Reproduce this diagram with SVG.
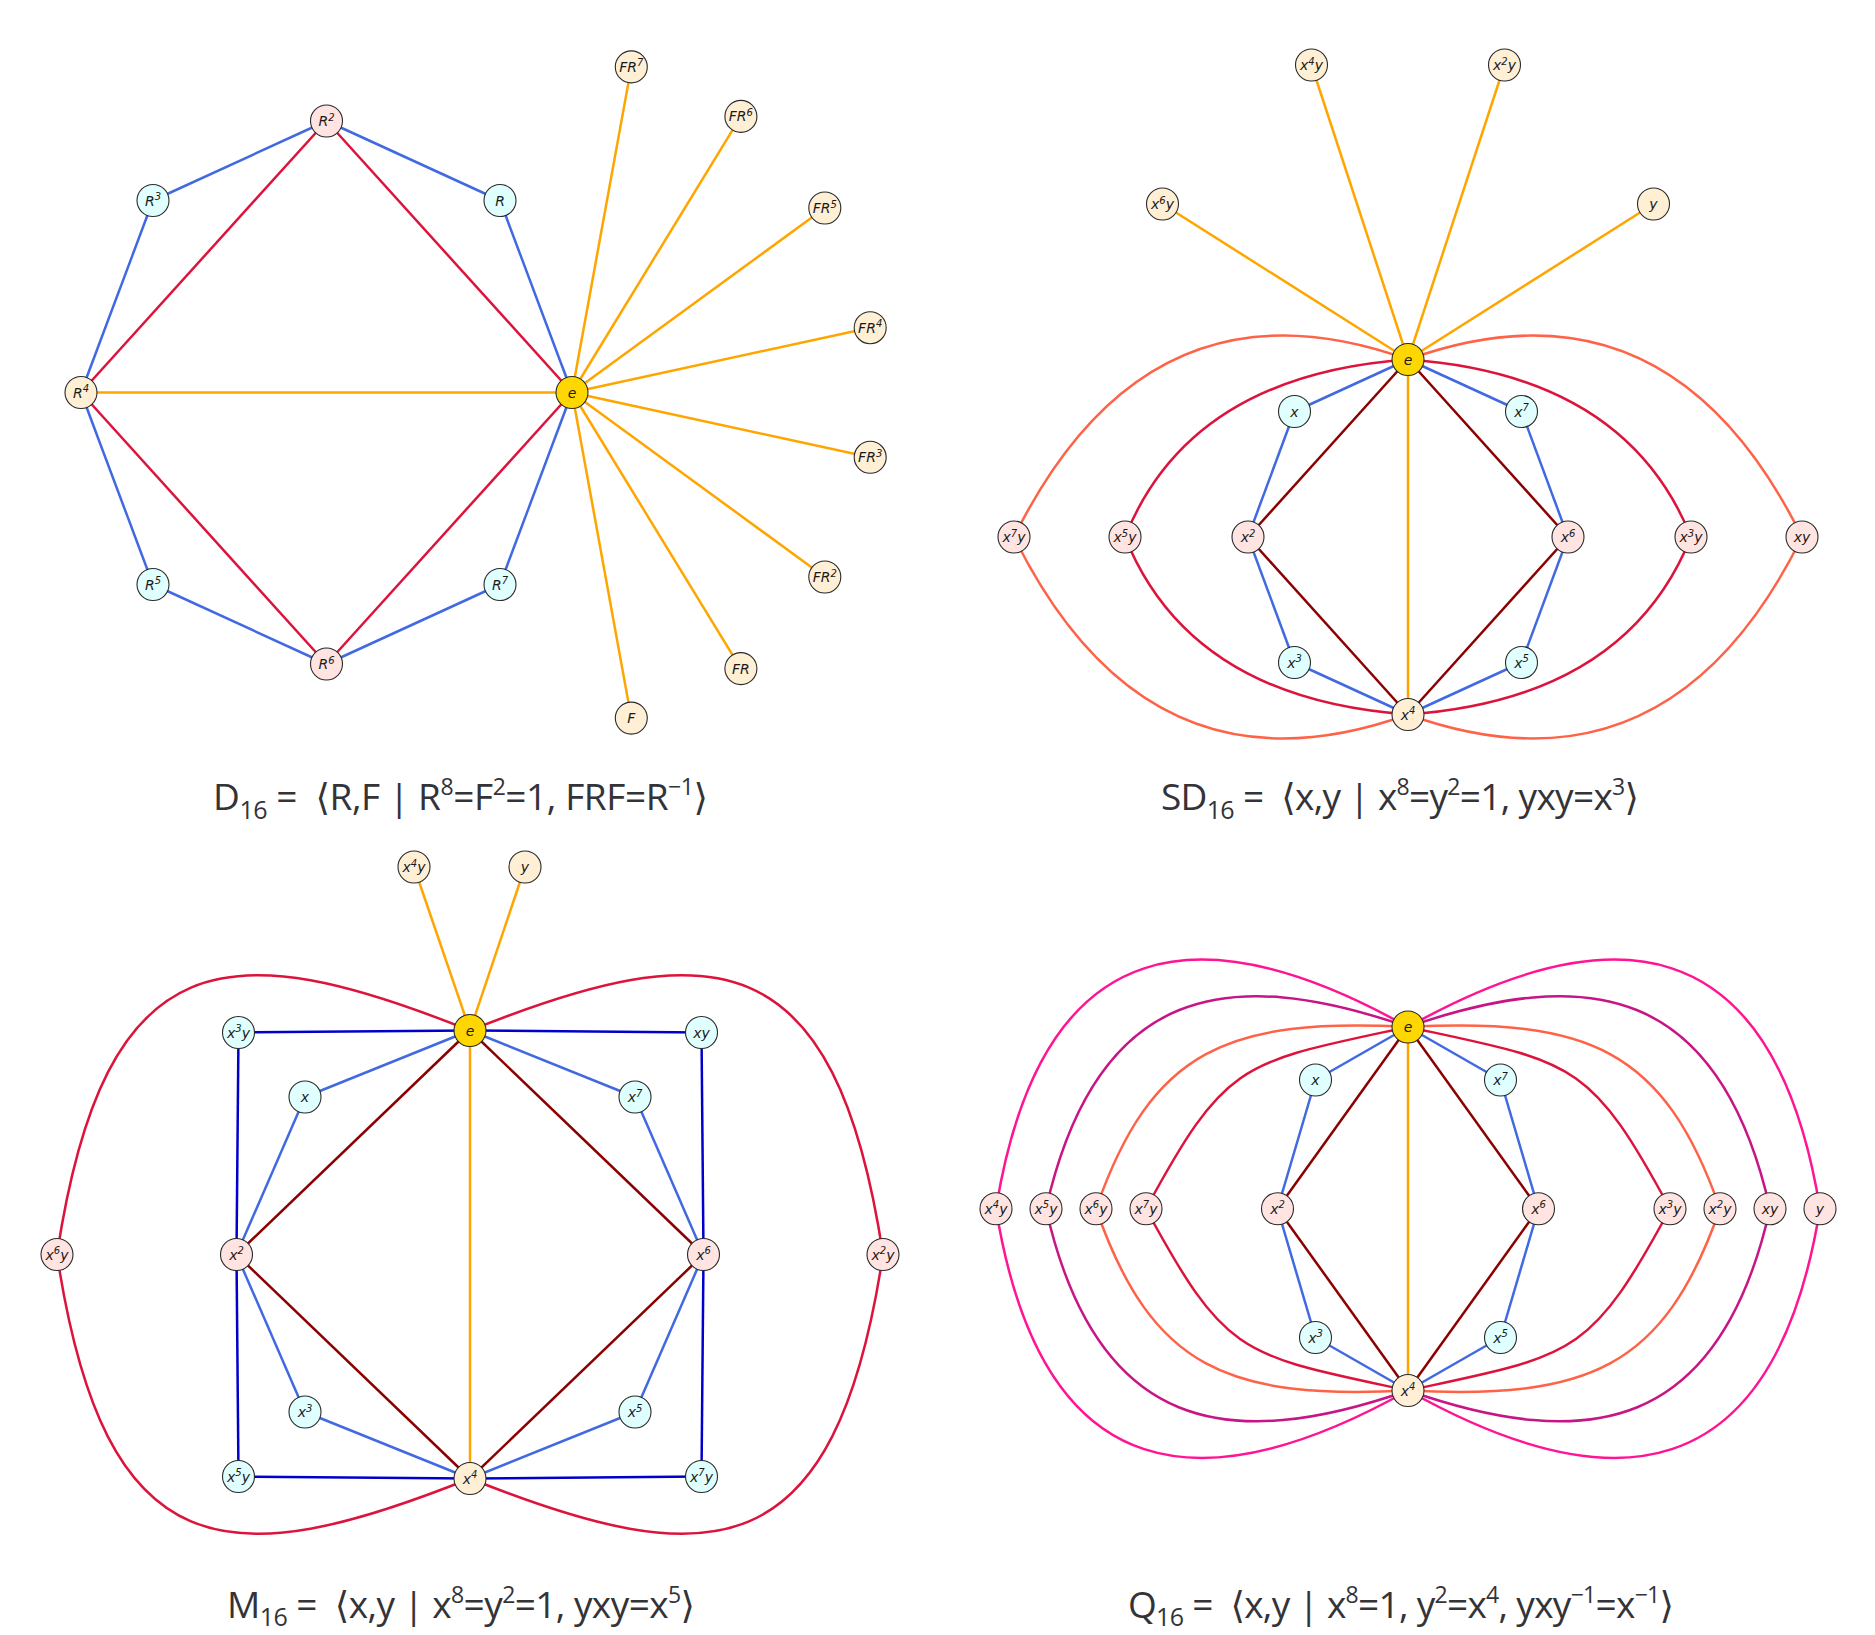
<svg xmlns="http://www.w3.org/2000/svg" width="1875" height="1635" viewBox="0 0 1875 1635">
<style>
.e line,.e path{fill:none;stroke-width:2.5}
.b{stroke:#4169E1}.c{stroke:#DC143C}.o{stroke:#FFA500}.dr{stroke:#8B0000}.t{stroke:#FF6347}.mb{stroke:#0000CD}.dp{stroke:#FF1493}.mv{stroke:#C71585}
.n circle{stroke:#2a2a2a;stroke-width:1.1}
.gd{fill:#FFD700}.cy{fill:#E0FFFF}.pk{fill:#FFE4E1}.cr{fill:#FFEFD5}
.n text{font-family:"DejaVu Sans",sans-serif;font-style:italic;font-size:14px;fill:#1a1a1a;text-anchor:middle}
.n .s{font-size:10px}
.cap{font-family:"Open Sans","Noto Sans","DejaVu Sans",sans-serif;font-size:37px;fill:#333338}
.cap .sb{font-size:25px}.cap .sp{font-size:23px}
</style>
<rect width="1875" height="1635" fill="#ffffff"/>

<g id="connectors" class="e">
<!-- D16 -->
<line class="o" x1="572" y1="392.5" x2="81" y2="392.5"/>
<line class="o" x1="572" y1="392.5" x2="631.3" y2="66.9"/>
<line class="o" x1="572" y1="392.5" x2="740.9" y2="116.4"/>
<line class="o" x1="572" y1="392.5" x2="824.8" y2="208"/>
<line class="o" x1="572" y1="392.5" x2="870.2" y2="327.7"/>
<line class="o" x1="572" y1="392.5" x2="870.2" y2="457.3"/>
<line class="o" x1="572" y1="392.5" x2="824.8" y2="577"/>
<line class="o" x1="572" y1="392.5" x2="740.9" y2="668.6"/>
<line class="o" x1="572" y1="392.5" x2="631.3" y2="718.1"/>
<line class="c" x1="572" y1="392.5" x2="326.5" y2="121"/>
<line class="c" x1="326.5" y1="121" x2="81" y2="392.5"/>
<line class="c" x1="81" y1="392.5" x2="326.5" y2="664"/>
<line class="c" x1="326.5" y1="664" x2="572" y2="392.5"/>
<line class="b" x1="572" y1="392.5" x2="500" y2="200.5"/>
<line class="b" x1="500" y1="200.5" x2="326.5" y2="121"/>
<line class="b" x1="326.5" y1="121" x2="153" y2="200.5"/>
<line class="b" x1="153" y1="200.5" x2="81" y2="392.5"/>
<line class="b" x1="81" y1="392.5" x2="153" y2="584.5"/>
<line class="b" x1="153" y1="584.5" x2="326.5" y2="664"/>
<line class="b" x1="326.5" y1="664" x2="500" y2="584.5"/>
<line class="b" x1="500" y1="584.5" x2="572" y2="392.5"/>
<!-- SD16 -->
<path class="t" d="M1408,359.5 Q1148,266 1014,537"/>
<path class="t" d="M1014,537 Q1148,808 1408,714.5"/>
<path class="t" d="M1408,359.5 Q1668,266 1802,537"/>
<path class="t" d="M1802,537 Q1668,808 1408,714.5"/>
<path class="c" d="M1408,359.5 Q1190,375 1125,537"/>
<path class="c" d="M1125,537 Q1190,699 1408,714.5"/>
<path class="c" d="M1408,359.5 Q1626,375 1691,537"/>
<path class="c" d="M1691,537 Q1626,699 1408,714.5"/>
<line class="o" x1="1408" y1="359.5" x2="1408" y2="714.5"/>
<line class="o" x1="1408" y1="359.5" x2="1311.5" y2="65"/>
<line class="o" x1="1408" y1="359.5" x2="1504.5" y2="65"/>
<line class="o" x1="1408" y1="359.5" x2="1162.5" y2="204"/>
<line class="o" x1="1408" y1="359.5" x2="1653.5" y2="204"/>
<line class="dr" x1="1408" y1="359.5" x2="1248" y2="537"/>
<line class="dr" x1="1248" y1="537" x2="1408" y2="714.5"/>
<line class="dr" x1="1408" y1="714.5" x2="1568" y2="537"/>
<line class="dr" x1="1568" y1="537" x2="1408" y2="359.5"/>
<line class="b" x1="1408" y1="359.5" x2="1294.5" y2="411.5"/>
<line class="b" x1="1294.5" y1="411.5" x2="1248" y2="537"/>
<line class="b" x1="1248" y1="537" x2="1294.5" y2="662.5"/>
<line class="b" x1="1294.5" y1="662.5" x2="1408" y2="714.5"/>
<line class="b" x1="1408" y1="714.5" x2="1521.5" y2="662.5"/>
<line class="b" x1="1521.5" y1="662.5" x2="1568" y2="537"/>
<line class="b" x1="1568" y1="537" x2="1521.5" y2="411.5"/>
<line class="b" x1="1521.5" y1="411.5" x2="1408" y2="359.5"/>
<!-- M16 -->
<path class="c" d="M470,1030.5 C228.7,934 105,938 57,1254.5"/>
<path class="c" d="M57,1254.5 C105,1571 228.7,1575 470,1478.5"/>
<path class="c" d="M470,1030.5 C711.3,934 835,938 883,1254.5"/>
<path class="c" d="M883,1254.5 C835,1571 711.3,1575 470,1478.5"/>
<line class="o" x1="470" y1="1030.5" x2="414" y2="867"/>
<line class="o" x1="470" y1="1030.5" x2="525" y2="867"/>
<line class="o" x1="470" y1="1030.5" x2="470" y2="1478.5"/>
<line class="mb" x1="470" y1="1030.5" x2="238.5" y2="1032.5"/>
<line class="mb" x1="238.5" y1="1032.5" x2="236.5" y2="1254.5"/>
<line class="mb" x1="236.5" y1="1254.5" x2="238.5" y2="1476.5"/>
<line class="mb" x1="238.5" y1="1476.5" x2="470" y2="1478.5"/>
<line class="mb" x1="470" y1="1030.5" x2="701.5" y2="1032.5"/>
<line class="mb" x1="701.5" y1="1032.5" x2="703.5" y2="1254.5"/>
<line class="mb" x1="703.5" y1="1254.5" x2="701.5" y2="1476.5"/>
<line class="mb" x1="701.5" y1="1476.5" x2="470" y2="1478.5"/>
<line class="dr" x1="470" y1="1030.5" x2="236.5" y2="1254.5"/>
<line class="dr" x1="236.5" y1="1254.5" x2="470" y2="1478.5"/>
<line class="dr" x1="470" y1="1478.5" x2="703.5" y2="1254.5"/>
<line class="dr" x1="703.5" y1="1254.5" x2="470" y2="1030.5"/>
<line class="b" x1="470" y1="1030.5" x2="305" y2="1097"/>
<line class="b" x1="305" y1="1097" x2="236.5" y2="1254.5"/>
<line class="b" x1="236.5" y1="1254.5" x2="305" y2="1412"/>
<line class="b" x1="305" y1="1412" x2="470" y2="1478.5"/>
<line class="b" x1="470" y1="1478.5" x2="635" y2="1412"/>
<line class="b" x1="635" y1="1412" x2="703.5" y2="1254.5"/>
<line class="b" x1="703.5" y1="1254.5" x2="635" y2="1097"/>
<line class="b" x1="635" y1="1097" x2="470" y2="1030.5"/>
<!-- Q16 -->
<path class="dp" d="M1408,1027 C1207.4,914.5 1042.4,922.5 996,1208.75"/>
<path class="dp" d="M996,1208.75 C1042.4,1495 1207.4,1503 1408,1390.5"/>
<path class="dp" d="M1408,1027 C1608.6,914.5 1773.6,922.5 1820,1208.75"/>
<path class="dp" d="M1820,1208.75 C1773.6,1495 1608.6,1503 1408,1390.5"/>
<path class="mv" d="M1408,1027 C1228.6,964.3 1096.6,984.5 1046,1208.75"/>
<path class="mv" d="M1046,1208.75 C1096.6,1433 1228.6,1453.2 1408,1390.5"/>
<path class="mv" d="M1408,1027 C1587.4,964.3 1719.4,984.5 1770,1208.75"/>
<path class="mv" d="M1770,1208.75 C1719.4,1433 1587.4,1453.2 1408,1390.5"/>
<path class="t" d="M1408,1027 C1228,1018 1152.1,1048.3 1096,1208.75"/>
<path class="t" d="M1096,1208.75 C1152.1,1369.2 1228,1399.5 1408,1390.5"/>
<path class="t" d="M1408,1027 C1588,1018 1663.9,1048.3 1720,1208.75"/>
<path class="t" d="M1720,1208.75 C1663.9,1369.2 1588,1399.5 1408,1390.5"/>
<path class="c" d="M1408,1027 C1241.7,1062.7 1226.9,1059.2 1146,1208.75"/>
<path class="c" d="M1146,1208.75 C1226.9,1358.3 1241.7,1354.8 1408,1390.5"/>
<path class="c" d="M1408,1027 C1574.3,1062.7 1589.1,1059.2 1670,1208.75"/>
<path class="c" d="M1670,1208.75 C1589.1,1358.3 1574.3,1354.8 1408,1390.5"/>
<line class="o" x1="1408" y1="1027" x2="1408" y2="1390.5"/>
<line class="dr" x1="1408" y1="1027" x2="1277.5" y2="1208.75"/>
<line class="dr" x1="1277.5" y1="1208.75" x2="1408" y2="1390.5"/>
<line class="dr" x1="1408" y1="1390.5" x2="1538.5" y2="1208.75"/>
<line class="dr" x1="1538.5" y1="1208.75" x2="1408" y2="1027"/>
<line class="b" x1="1408" y1="1027" x2="1315.5" y2="1080"/>
<line class="b" x1="1315.5" y1="1080" x2="1277.5" y2="1208.75"/>
<line class="b" x1="1277.5" y1="1208.75" x2="1315.5" y2="1337.5"/>
<line class="b" x1="1315.5" y1="1337.5" x2="1408" y2="1390.5"/>
<line class="b" x1="1408" y1="1390.5" x2="1500.5" y2="1337.5"/>
<line class="b" x1="1500.5" y1="1337.5" x2="1538.5" y2="1208.75"/>
<line class="b" x1="1538.5" y1="1208.75" x2="1500.5" y2="1080"/>
<line class="b" x1="1500.5" y1="1080" x2="1408" y2="1027"/>
</g>

<!-- D16 nodes -->
<g id="d-e" class="n"><circle cx="572" cy="392.5" r="16" class="gd"/><text x="572" y="397.5">e</text></g>
<g id="d-R" class="n"><circle cx="500" cy="200.5" r="16" class="cy"/><text x="500" y="205.5">R</text></g>
<g id="d-R2" class="n"><circle cx="326.5" cy="121" r="16" class="pk"/><text x="326.5" y="126">R<tspan class="s" dy="-5.5">2</tspan></text></g>
<g id="d-R3" class="n"><circle cx="153" cy="200.5" r="16" class="cy"/><text x="153" y="205.5">R<tspan class="s" dy="-5.5">3</tspan></text></g>
<g id="d-R4" class="n"><circle cx="81" cy="392.5" r="16" class="cr"/><text x="81" y="397.5">R<tspan class="s" dy="-5.5">4</tspan></text></g>
<g id="d-R5" class="n"><circle cx="153" cy="584.5" r="16" class="cy"/><text x="153" y="589.5">R<tspan class="s" dy="-5.5">5</tspan></text></g>
<g id="d-R6" class="n"><circle cx="326.5" cy="664" r="16" class="pk"/><text x="326.5" y="669">R<tspan class="s" dy="-5.5">6</tspan></text></g>
<g id="d-R7" class="n"><circle cx="500" cy="584.5" r="16" class="cy"/><text x="500" y="589.5">R<tspan class="s" dy="-5.5">7</tspan></text></g>
<g id="d-F" class="n"><circle cx="631.3" cy="718.1" r="16" class="cr"/><text x="631.3" y="723.1">F</text></g>
<g id="d-FR" class="n"><circle cx="740.9" cy="668.6" r="16" class="cr"/><text x="740.9" y="673.6">FR</text></g>
<g id="d-FR2" class="n"><circle cx="824.8" cy="577" r="16" class="cr"/><text x="824.8" y="582">FR<tspan class="s" dy="-5.5">2</tspan></text></g>
<g id="d-FR3" class="n"><circle cx="870.2" cy="457.3" r="16" class="cr"/><text x="870.2" y="462.3">FR<tspan class="s" dy="-5.5">3</tspan></text></g>
<g id="d-FR4" class="n"><circle cx="870.2" cy="327.7" r="16" class="cr"/><text x="870.2" y="332.7">FR<tspan class="s" dy="-5.5">4</tspan></text></g>
<g id="d-FR5" class="n"><circle cx="824.8" cy="208" r="16" class="cr"/><text x="824.8" y="213">FR<tspan class="s" dy="-5.5">5</tspan></text></g>
<g id="d-FR6" class="n"><circle cx="740.9" cy="116.4" r="16" class="cr"/><text x="740.9" y="121.4">FR<tspan class="s" dy="-5.5">6</tspan></text></g>
<g id="d-FR7" class="n"><circle cx="631.3" cy="66.9" r="16" class="cr"/><text x="631.3" y="71.9">FR<tspan class="s" dy="-5.5">7</tspan></text></g>

<!-- SD16 nodes -->
<g id="s-e" class="n"><circle cx="1408" cy="359.5" r="16" class="gd"/><text x="1408" y="364.5">e</text></g>
<g id="s-x4" class="n"><circle cx="1408" cy="714.5" r="16" class="cr"/><text x="1408" y="719.5">x<tspan class="s" dy="-5.5">4</tspan></text></g>
<g id="s-x" class="n"><circle cx="1294.5" cy="411.5" r="16" class="cy"/><text x="1294.5" y="416.5">x</text></g>
<g id="s-x7" class="n"><circle cx="1521.5" cy="411.5" r="16" class="cy"/><text x="1521.5" y="416.5">x<tspan class="s" dy="-5.5">7</tspan></text></g>
<g id="s-x3" class="n"><circle cx="1294.5" cy="662.5" r="16" class="cy"/><text x="1294.5" y="667.5">x<tspan class="s" dy="-5.5">3</tspan></text></g>
<g id="s-x5" class="n"><circle cx="1521.5" cy="662.5" r="16" class="cy"/><text x="1521.5" y="667.5">x<tspan class="s" dy="-5.5">5</tspan></text></g>
<g id="s-x2" class="n"><circle cx="1248" cy="537" r="16" class="pk"/><text x="1248" y="542">x<tspan class="s" dy="-5.5">2</tspan></text></g>
<g id="s-x6" class="n"><circle cx="1568" cy="537" r="16" class="pk"/><text x="1568" y="542">x<tspan class="s" dy="-5.5">6</tspan></text></g>
<g id="s-x5y" class="n"><circle cx="1125" cy="537" r="16" class="pk"/><text x="1125" y="542">x<tspan class="s" dy="-5.5">5</tspan><tspan dy="5.5">y</tspan></text></g>
<g id="s-x3y" class="n"><circle cx="1691" cy="537" r="16" class="pk"/><text x="1691" y="542">x<tspan class="s" dy="-5.5">3</tspan><tspan dy="5.5">y</tspan></text></g>
<g id="s-x7y" class="n"><circle cx="1014" cy="537" r="16" class="pk"/><text x="1014" y="542">x<tspan class="s" dy="-5.5">7</tspan><tspan dy="5.5">y</tspan></text></g>
<g id="s-xy" class="n"><circle cx="1802" cy="537" r="16" class="pk"/><text x="1802" y="542">xy</text></g>
<g id="s-x4y" class="n"><circle cx="1311.5" cy="65" r="16" class="cr"/><text x="1311.5" y="70">x<tspan class="s" dy="-5.5">4</tspan><tspan dy="5.5">y</tspan></text></g>
<g id="s-x2y" class="n"><circle cx="1504.5" cy="65" r="16" class="cr"/><text x="1504.5" y="70">x<tspan class="s" dy="-5.5">2</tspan><tspan dy="5.5">y</tspan></text></g>
<g id="s-x6y" class="n"><circle cx="1162.5" cy="204" r="16" class="cr"/><text x="1162.5" y="209">x<tspan class="s" dy="-5.5">6</tspan><tspan dy="5.5">y</tspan></text></g>
<g id="s-y" class="n"><circle cx="1653.5" cy="204" r="16" class="cr"/><text x="1653.5" y="209">y</text></g>

<!-- M16 nodes -->
<g id="m-e" class="n"><circle cx="470" cy="1030.5" r="16" class="gd"/><text x="470" y="1035.5">e</text></g>
<g id="m-x4" class="n"><circle cx="470" cy="1478.5" r="16" class="cr"/><text x="470" y="1483.5">x<tspan class="s" dy="-5.5">4</tspan></text></g>
<g id="m-x4y" class="n"><circle cx="414" cy="867" r="16" class="cr"/><text x="414" y="872">x<tspan class="s" dy="-5.5">4</tspan><tspan dy="5.5">y</tspan></text></g>
<g id="m-y" class="n"><circle cx="525" cy="867" r="16" class="cr"/><text x="525" y="872">y</text></g>
<g id="m-x3y" class="n"><circle cx="238.5" cy="1032.5" r="16" class="cy"/><text x="238.5" y="1037.5">x<tspan class="s" dy="-5.5">3</tspan><tspan dy="5.5">y</tspan></text></g>
<g id="m-xy" class="n"><circle cx="701.5" cy="1032.5" r="16" class="cy"/><text x="701.5" y="1037.5">xy</text></g>
<g id="m-x5y" class="n"><circle cx="238.5" cy="1476.5" r="16" class="cy"/><text x="238.5" y="1481.5">x<tspan class="s" dy="-5.5">5</tspan><tspan dy="5.5">y</tspan></text></g>
<g id="m-x7y" class="n"><circle cx="701.5" cy="1476.5" r="16" class="cy"/><text x="701.5" y="1481.5">x<tspan class="s" dy="-5.5">7</tspan><tspan dy="5.5">y</tspan></text></g>
<g id="m-x" class="n"><circle cx="305" cy="1097" r="16" class="cy"/><text x="305" y="1102">x</text></g>
<g id="m-x7" class="n"><circle cx="635" cy="1097" r="16" class="cy"/><text x="635" y="1102">x<tspan class="s" dy="-5.5">7</tspan></text></g>
<g id="m-x3" class="n"><circle cx="305" cy="1412" r="16" class="cy"/><text x="305" y="1417">x<tspan class="s" dy="-5.5">3</tspan></text></g>
<g id="m-x5" class="n"><circle cx="635" cy="1412" r="16" class="cy"/><text x="635" y="1417">x<tspan class="s" dy="-5.5">5</tspan></text></g>
<g id="m-x2" class="n"><circle cx="236.5" cy="1254.5" r="16" class="pk"/><text x="236.5" y="1259.5">x<tspan class="s" dy="-5.5">2</tspan></text></g>
<g id="m-x6" class="n"><circle cx="703.5" cy="1254.5" r="16" class="pk"/><text x="703.5" y="1259.5">x<tspan class="s" dy="-5.5">6</tspan></text></g>
<g id="m-x6y" class="n"><circle cx="57" cy="1254.5" r="16" class="pk"/><text x="57" y="1259.5">x<tspan class="s" dy="-5.5">6</tspan><tspan dy="5.5">y</tspan></text></g>
<g id="m-x2y" class="n"><circle cx="883" cy="1254.5" r="16" class="pk"/><text x="883" y="1259.5">x<tspan class="s" dy="-5.5">2</tspan><tspan dy="5.5">y</tspan></text></g>

<!-- Q16 nodes -->
<g id="q-e" class="n"><circle cx="1408" cy="1027" r="16" class="gd"/><text x="1408" y="1032">e</text></g>
<g id="q-x4" class="n"><circle cx="1408" cy="1390.5" r="16" class="cr"/><text x="1408" y="1395.5">x<tspan class="s" dy="-5.5">4</tspan></text></g>
<g id="q-x" class="n"><circle cx="1315.5" cy="1080" r="16" class="cy"/><text x="1315.5" y="1085">x</text></g>
<g id="q-x7" class="n"><circle cx="1500.5" cy="1080" r="16" class="cy"/><text x="1500.5" y="1085">x<tspan class="s" dy="-5.5">7</tspan></text></g>
<g id="q-x3" class="n"><circle cx="1315.5" cy="1337.5" r="16" class="cy"/><text x="1315.5" y="1342.5">x<tspan class="s" dy="-5.5">3</tspan></text></g>
<g id="q-x5" class="n"><circle cx="1500.5" cy="1337.5" r="16" class="cy"/><text x="1500.5" y="1342.5">x<tspan class="s" dy="-5.5">5</tspan></text></g>
<g id="q-x2" class="n"><circle cx="1277.5" cy="1208.75" r="16" class="pk"/><text x="1277.5" y="1213.75">x<tspan class="s" dy="-5.5">2</tspan></text></g>
<g id="q-x6" class="n"><circle cx="1538.5" cy="1208.75" r="16" class="pk"/><text x="1538.5" y="1213.75">x<tspan class="s" dy="-5.5">6</tspan></text></g>
<g id="q-x4y" class="n"><circle cx="996" cy="1208.75" r="16" class="pk"/><text x="996" y="1213.75">x<tspan class="s" dy="-5.5">4</tspan><tspan dy="5.5">y</tspan></text></g>
<g id="q-x5y" class="n"><circle cx="1046" cy="1208.75" r="16" class="pk"/><text x="1046" y="1213.75">x<tspan class="s" dy="-5.5">5</tspan><tspan dy="5.5">y</tspan></text></g>
<g id="q-x6y" class="n"><circle cx="1096" cy="1208.75" r="16" class="pk"/><text x="1096" y="1213.75">x<tspan class="s" dy="-5.5">6</tspan><tspan dy="5.5">y</tspan></text></g>
<g id="q-x7y" class="n"><circle cx="1146" cy="1208.75" r="16" class="pk"/><text x="1146" y="1213.75">x<tspan class="s" dy="-5.5">7</tspan><tspan dy="5.5">y</tspan></text></g>
<g id="q-x3y" class="n"><circle cx="1670" cy="1208.75" r="16" class="pk"/><text x="1670" y="1213.75">x<tspan class="s" dy="-5.5">3</tspan><tspan dy="5.5">y</tspan></text></g>
<g id="q-x2y" class="n"><circle cx="1720" cy="1208.75" r="16" class="pk"/><text x="1720" y="1213.75">x<tspan class="s" dy="-5.5">2</tspan><tspan dy="5.5">y</tspan></text></g>
<g id="q-xy" class="n"><circle cx="1770" cy="1208.75" r="16" class="pk"/><text x="1770" y="1213.75">xy</text></g>
<g id="q-y" class="n"><circle cx="1820" cy="1208.75" r="16" class="pk"/><text x="1820" y="1213.75">y</text></g>

<!-- captions -->
<g id="captions">
<text class="cap" x="213" y="810" textLength="495" lengthAdjust="spacing" xml:space="preserve">D<tspan class="sb" dy="9">16</tspan><tspan dy="-9"> =  ⟨R,F | R</tspan><tspan class="sp" dy="-15">8</tspan><tspan dy="15">=F</tspan><tspan class="sp" dy="-15">2</tspan><tspan dy="15">=1, FRF=R</tspan><tspan class="sp" dy="-15">−1</tspan><tspan dy="15">⟩</tspan></text>
<text class="cap" x="1161" y="810" textLength="478" lengthAdjust="spacing" xml:space="preserve">SD<tspan class="sb" dy="9">16</tspan><tspan dy="-9"> =  ⟨x,y | x</tspan><tspan class="sp" dy="-15">8</tspan><tspan dy="15">=y</tspan><tspan class="sp" dy="-15">2</tspan><tspan dy="15">=1, yxy=x</tspan><tspan class="sp" dy="-15">3</tspan><tspan dy="15">⟩</tspan></text>
<text class="cap" x="227" y="1618" textLength="468" lengthAdjust="spacing" xml:space="preserve">M<tspan class="sb" dy="8">16</tspan><tspan dy="-8"> =  ⟨x,y | x</tspan><tspan class="sp" dy="-15">8</tspan><tspan dy="15">=y</tspan><tspan class="sp" dy="-15">2</tspan><tspan dy="15">=1, yxy=x</tspan><tspan class="sp" dy="-15">5</tspan><tspan dy="15">⟩</tspan></text>
<text class="cap" x="1128" y="1618" textLength="546" lengthAdjust="spacing" xml:space="preserve">Q<tspan class="sb" dy="8">16</tspan><tspan dy="-8"> =  ⟨x,y | x</tspan><tspan class="sp" dy="-15">8</tspan><tspan dy="15">=1, y</tspan><tspan class="sp" dy="-15">2</tspan><tspan dy="15">=x</tspan><tspan class="sp" dy="-15">4</tspan><tspan dy="15">, yxy</tspan><tspan class="sp" dy="-15">−1</tspan><tspan dy="15">=x</tspan><tspan class="sp" dy="-15">−1</tspan><tspan dy="15">⟩</tspan></text>
</g>
</svg>
